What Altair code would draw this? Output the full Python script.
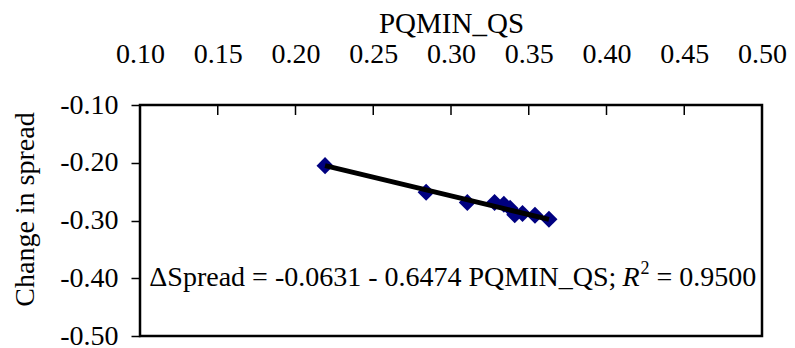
import altair as alt
import pandas as pd

# Data
pq = [0.219, 0.284, 0.3105, 0.328, 0.334, 0.338, 0.341, 0.346, 0.354, 0.363]
spread = [-0.205, -0.251, -0.269, -0.269, -0.272, -0.279, -0.290, -0.288, -0.291, -0.298]
fit_x = [0.219, 0.363]
intercept = -0.0631
slope = -0.6474
x_ticks = [0.10, 0.15, 0.20, 0.25, 0.30, 0.35, 0.40, 0.45, 0.50]
y_ticks = [-0.10, -0.20, -0.30, -0.40, -0.50]
eq_main = "\u0394Spread = -0.0631 - 0.6474 PQMIN_QS;"
eq_r = "R"
eq_sup = "2"
eq_tail = "= 0.9500"
eq_pos = [0.106, -0.40]

FONT = "Liberation Serif"
FS = 28
SUP_FS = 18

# Times-compatible advance widths (em) used to place the pieces of the equation
_w = {"\u0394": 0.612, "S": 0.556, "p": 0.5, "r": 0.333, "e": 0.444, "a": 0.444, "d": 0.5,
      " ": 0.25, "=": 0.564, "-": 0.333, ".": 0.25, "P": 0.556, "Q": 0.722, "M": 0.889,
      "I": 0.333, "N": 0.722, "_": 0.5, ";": 0.278, "R": 0.611}


def em(s):
    return sum(_w.get(c, 0.5) for c in s)


dx_r = (em(eq_main) + em(" ")) * FS
dx_sup = dx_r + em(eq_r) * FS + 1
dx_tail = dx_sup + 0.5 * SUP_FS + em(" ") * FS

pts = pd.DataFrame({"x": pq, "y": spread})
fit = pd.DataFrame({"x": fit_x, "y": [intercept + slope * v for v in fit_x]})
ticks = pd.DataFrame({"x": x_ticks})
lab = pd.DataFrame({"x": [eq_pos[0]], "y": [eq_pos[1]]})

x_axis = alt.Axis(
    orient="top", values=x_ticks, format=".2f", ticks=False, tickSize=0,
    domain=False, grid=False, labelFont=FONT, labelFontSize=FS, labelColor="black",
    labelPadding=43, labelBaseline="alphabetic", labelFlush=False, labelOverlap=False,
    title="PQMIN_QS", titleFont=FONT, titleFontSize=29, titleFontWeight="normal",
    titleColor="black", titleY=-73, titleBaseline="alphabetic",
)
y_axis = alt.Axis(
    orient="left", values=y_ticks, tickSize=9, tickColor="black",
    labelExpr="(datum.value < 0 ? '-' : '') + format(abs(datum.value), '.2f')",
    tickWidth=1.5, domain=False, grid=False, labelFont=FONT, labelFontSize=FS,
    labelColor="black", labelPadding=13, labelFlush=False, labelOverlap=False,
    title="Change in spread", titleFont=FONT, titleFontSize=28, titleFontWeight="normal",
    titleColor="black", titleX=-107, titleY=104, titleAngle=270, titleBaseline="alphabetic",
)

x_enc = alt.X("x:Q", scale=alt.Scale(domain=[0.10, 0.50], nice=False, zero=False), axis=x_axis)
y_enc = alt.Y("y:Q", scale=alt.Scale(domain=[-0.50, -0.10], nice=False, zero=False), axis=y_axis)

tick_layer = alt.Chart(ticks).mark_rule(color="black", strokeWidth=1.5).encode(
    x=x_enc, y=alt.value(0), y2=alt.value(10)
)
point_layer = alt.Chart(pts).mark_point(
    shape="diamond", filled=True, size=290, color="#000080", opacity=1
).encode(x=x_enc, y=y_enc)
line_layer = alt.Chart(fit).mark_line(color="black", strokeWidth=5).encode(x=x_enc, y=y_enc)

base_text = dict(font=FONT, color="black", align="left", baseline="middle")
t_main = alt.Chart(lab).mark_text(text=eq_main, fontSize=FS, **base_text).encode(x=x_enc, y=y_enc)
t_r = alt.Chart(lab).mark_text(text=eq_r, fontSize=FS, fontStyle="italic", dx=dx_r, **base_text).encode(x=x_enc, y=y_enc)
t_sup = alt.Chart(lab).mark_text(text=eq_sup, fontSize=SUP_FS, dx=dx_sup, dy=-9, **base_text).encode(x=x_enc, y=y_enc)
t_tail = alt.Chart(lab).mark_text(text=eq_tail, fontSize=FS, dx=dx_tail, **base_text).encode(x=x_enc, y=y_enc)

chart = alt.layer(tick_layer, point_layer, line_layer, t_main, t_r, t_sup, t_tail).properties(
    width=622, height=231,
    autosize=alt.AutoSizeParams(type="none"),
    padding={"left": 132, "top": 97, "right": 25, "bottom": 12},
).configure_view(stroke="black", strokeWidth=2.5)

chart.save("out.html", embed_options={"renderer": "svg", "actions": False})
